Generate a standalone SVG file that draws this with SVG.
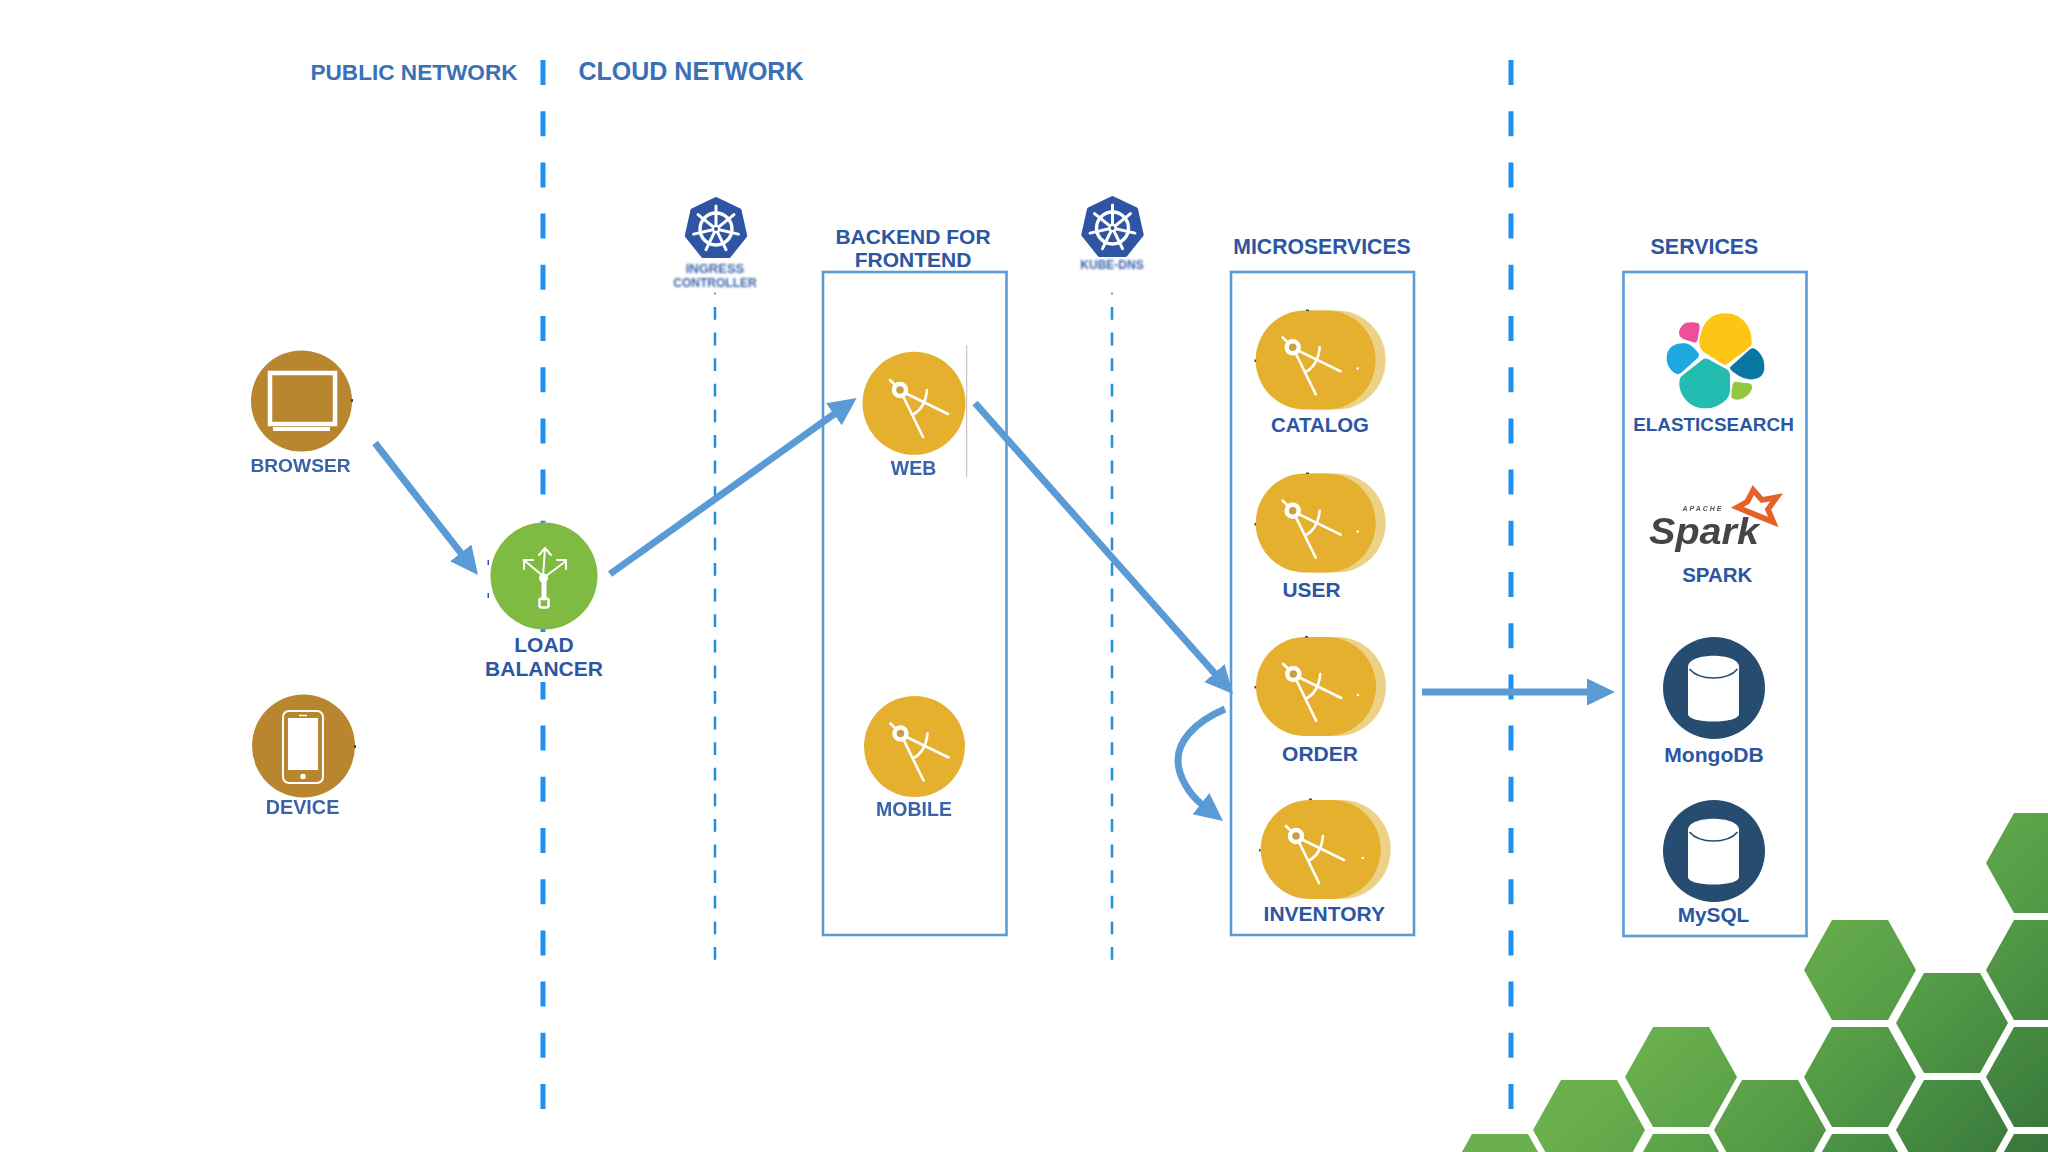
<svg xmlns="http://www.w3.org/2000/svg" width="2048" height="1152" viewBox="0 0 2048 1152">
<style>
text{font-family:"Liberation Sans",Arial,sans-serif;font-weight:700;fill:#2c56a2;text-anchor:middle}
.net{fill:#3b6fb6}
.soft{filter:url(#soft);fill:#3a63a8}
.tiny{filter:url(#blur);fill:#3a63a8}
.box{fill:none;stroke:#5b9bd5;stroke-width:2.6}
.wide{fill:none;stroke:#1e90f0;stroke-width:5;stroke-dasharray:25 26.2}
.narrow{fill:none;stroke:#1e90e0;stroke-width:2.5;stroke-dasharray:12.8 12.8}
.conn{fill:none;stroke:#5b9bd5;stroke-width:7;marker-end:url(#head)}
.ic{fill:none;stroke:#fff;stroke-linecap:round;stroke-linejoin:round}
.tick{fill:#445}
</style>
<defs>
<filter id="soft" x="-10%" y="-20%" width="120%" height="140%"><feGaussianBlur stdDeviation="0.45"/></filter>
<filter id="blur" x="-10%" y="-30%" width="120%" height="160%"><feGaussianBlur stdDeviation="1"/></filter>
<filter id="ico" x="-10%" y="-10%" width="120%" height="120%"><feGaussianBlur stdDeviation="0.35"/></filter>
<linearGradient id="hex" gradientUnits="userSpaceOnUse" x1="1780" y1="860" x2="2040" y2="1140"><stop offset="0.1" stop-color="#6ab04d"/><stop offset="0.5" stop-color="#559c47"/><stop offset="1" stop-color="#38783c"/></linearGradient>
<marker id="head" markerUnits="userSpaceOnUse" markerWidth="28" markerHeight="28" refX="1" refY="14" orient="auto"><path d="M0,0.5 L28,14 L0,27.5 Z" fill="#5b9bd5"/></marker>
<g id="compass" filter="url(#ico)">
<circle r="6" fill="#c8a040" stroke="#fff" stroke-width="4.500"/>
<path class="ic" stroke-width="2.600" d="M-10,-10 L-4,-4 M3,6 L23,47 M5,3 L48,24 M12,25 Q25,19 27,0"/>
</g>
<g id="wheel">
<polygon points="0,-30 23.5,-18.7 29.2,6.7 13,27 -13,27 -29.2,6.7 -23.5,-18.7" fill="#2f54a3" stroke="#2f54a3" stroke-width="4" stroke-linejoin="round"/>
<circle r="16" fill="none" stroke="#fff" stroke-width="3.400"/>
<path class="ic" stroke-width="3" d="M0,0 L0,-23 M0,0 L18,-14.300 M0,0 L22.400,5.100 M0,0 L10,20.700 M0,0 L-10,20.700 M0,0 L-22.400,5.100 M0,0 L-18,-14.300"/>
<circle r="4" fill="#fff"/><circle r="2" fill="#2f54a3"/>
</g>
<g id="pill">
<rect x="10" y="0" width="120" height="99" rx="49" ry="49.500" fill="#ecd286"/>
<rect x="0" y="0" width="120" height="99" rx="49" ry="49.500" fill="#e5b02d"/>
<circle cx="102" cy="58" r="1.200" fill="#fff"/>
</g>
<g id="cyl">
<path d="M-25.500,-21 C-25.500,-36 25.500,-36 25.500,-21 L25.500,26 C25.500,36 -25.500,36 -25.500,26 Z" fill="#fff"/>
<path d="M-24,-19 C-14,-7 14,-7 24,-19" fill="none" stroke="#264c70" stroke-width="1.600"/>
</g>
</defs>
<rect width="2048" height="1152" fill="#fff"/>

<g id="hexagons">
<path fill="url(#hex)" d="M1986,863l28,-50h56l28,50l-28,50h-56z M1986,970l28,-50h56l28,50l-28,50h-56z M1986,1077l28,-50h56l28,50l-28,50h-56z M1986,1184l28,-50h56l28,50l-28,50h-56z M1896,1023l28,-50h56l28,50l-28,50h-56z M1896,1130l28,-50h56l28,50l-28,50h-56z M1804,970l28,-50h56l28,50l-28,50h-56z M1804,1077l28,-50h56l28,50l-28,50h-56z M1804,1184l28,-50h56l28,50l-28,50h-56z M1714,1130l28,-50h56l28,50l-28,50h-56z M1625,1077l28,-50h56l28,50l-28,50h-56z M1625,1184l28,-50h56l28,50l-28,50h-56z M1533,1130l28,-50h56l28,50l-28,50h-56z M1444,1184l28,-50h56l28,50l-28,50h-56z"/>
</g>

<g id="lanes">
<path class="wide" d="M543,60V1110"/>
<path class="wide" d="M1511,60V1110"/>
<path class="narrow" d="M715,307V960"/>
<path class="narrow" d="M1112,307V960"/>
<path d="M715,292.500V294.500M1112,292.500V294.500" stroke="#1e90e0" stroke-width="1.500"/>
</g>

<g id="headings">
<text class="net" x="414" y="80" font-size="22.600">PUBLIC NETWORK</text>
<text class="net" x="691" y="80" font-size="25">CLOUD NETWORK</text>
</g>

<g id="ingress"><use href="#wheel" x="716" y="229"/>
<text class="tiny" x="715" y="273" font-size="13">INGRESS</text>
<text class="tiny" x="715" y="287" font-size="12">CONTROLLER</text></g>
<g id="kube-dns"><use href="#wheel" x="1112.500" y="228"/>
<text class="tiny" x="1112" y="269" font-size="12">KUBE-DNS</text></g>

<g id="browser">
<circle cx="301.500" cy="401" r="50.500" fill="#b8862e"/>
<rect x="270" y="373" width="65" height="51" fill="none" stroke="#fff" stroke-width="4.500"/>
<rect x="273" y="427" width="57" height="4" fill="#fff"/>
<rect class="tick" x="351" y="399" width="2" height="3"/>
<text class="soft" x="300.500" y="472" font-size="19.200">BROWSER</text>
</g>
<g id="device">
<circle cx="303.500" cy="746" r="51.500" fill="#b8862e"/>
<rect x="283" y="711" width="40" height="72" rx="6" fill="none" stroke="#fff" stroke-width="2"/>
<rect x="288" y="718" width="30" height="52" fill="#fff"/>
<path d="M299,715.500H307" stroke="#fff" stroke-width="1.500"/>
<circle cx="303" cy="776.500" r="2.800" fill="#fff"/>
<rect class="tick" x="354" y="745" width="2" height="3"/>
<text class="soft" x="302.500" y="814" font-size="19.800">DEVICE</text>
</g>
<g id="load-balancer">
<rect x="482" y="632" width="124" height="50" fill="#fff"/>
<circle cx="544" cy="576" r="53.500" fill="#7fba42"/>
<path class="ic" stroke-width="2" d="M543,576 L545,549 M539,555 L545,548 L551,555 M543,576 L525,561 M524,569 L524,560 L533,560 M546,576 L566,561 M557,560 L566,560 L566,569"/>
<path class="ic" stroke-width="5" d="M544,577 V598"/>
<circle cx="543.500" cy="578" r="4.500" fill="#fff"/>
<rect x="539.500" y="598.500" width="9" height="9" rx="2" fill="none" stroke="#fff" stroke-width="2.500"/>
<rect x="487.500" y="560" width="1.500" height="5" fill="#3a50a0"/>
<rect x="487.500" y="593" width="1.500" height="5" fill="#3a50a0"/>
<text x="544" y="652" font-size="21">LOAD</text>
<text x="544" y="675.500" font-size="21">BALANCER</text>
</g>

<g id="bff">
<rect class="box" x="823" y="272" width="183.500" height="663"/>
<text x="913" y="243.500" font-size="21">BACKEND FOR</text>
<text x="913" y="266.500" font-size="21">FRONTEND</text>
</g>
<g id="web">
<circle cx="914" cy="403.300" r="51.500" fill="#e5b02d"/>
<use href="#compass" x="900" y="390"/>
<path d="M966.700,345V477" stroke="#bbb" stroke-width="1"/>
<text class="soft" x="913.500" y="475" font-size="19.500">WEB</text>
</g>
<g id="mobile">
<circle cx="914.500" cy="746.500" r="50.500" fill="#e5b02d"/>
<use href="#compass" x="900.500" y="733.500"/>
<text class="soft" x="914" y="816" font-size="19.500">MOBILE</text>
</g>

<g id="microservices">
<rect class="box" x="1231" y="272" width="183" height="663"/>
<text x="1322" y="253.500" font-size="21.200">MICROSERVICES</text>
</g>
<g id="catalog"><use href="#pill" x="1255.700" y="310.500"/><use href="#compass" x="1292.700" y="347.300"/>
<rect class="tick" x="1306" y="309.500" width="3" height="1.500"/><rect class="tick" x="1254.500" y="359.500" width="1.500" height="2.500"/>
<text x="1320" y="432.300" font-size="20.400">CATALOG</text></g>
<g id="user"><use href="#pill" x="1255.700" y="473.500"/><use href="#compass" x="1292.700" y="510.700"/>
<rect class="tick" x="1306" y="472.500" width="3" height="1.500"/><rect class="tick" x="1254.500" y="523" width="1.500" height="2.500"/>
<text x="1311.500" y="596.700" font-size="20.900">USER</text></g>
<g id="order"><use href="#pill" x="1256" y="637"/><use href="#compass" x="1293.300" y="674"/>
<rect class="tick" x="1305" y="636" width="3" height="1.500"/><rect class="tick" x="1254.500" y="686" width="1.500" height="2.500"/>
<text x="1320" y="761" font-size="21">ORDER</text></g>
<g id="inventory"><use href="#pill" x="1260.700" y="800"/><use href="#compass" x="1296" y="836"/>
<rect class="tick" x="1309" y="798.500" width="3" height="1.500"/><rect class="tick" x="1259" y="849" width="1.500" height="2.500"/>
<text x="1324.300" y="921" font-size="21">INVENTORY</text></g>

<g id="services">
<rect class="box" x="1623.500" y="272" width="183" height="664"/>
<text x="1704.500" y="253.500" font-size="21.400">SERVICES</text>
</g>
<g id="elasticsearch">
<g transform="translate(1610,280) scale(.33333)">
<path fill="#fec514" d="M345,100C395,100 428,140 425,190C424,200 415,205 405,212L350,253Q345,256 338,252L280,215Q272,208 270,200C266,180 270,165 280,140C292,115 315,100 345,100Z"/>
<path fill="#f04e98" d="M228,128Q250,125 265,130Q270,133 268,150L262,182Q258,190 250,187L222,178Q205,170 207,155Q212,135 228,128Z"/>
<path fill="#1ba9e0" d="M170,235C170,205 190,188 225,190Q240,190 262,215Q272,225 262,235L212,280Q205,285 195,280C180,270 170,255 170,235Z"/>
<path fill="#0a77a3" d="M360,262L420,208Q428,202 437,208C455,222 465,240 463,268Q460,295 430,298C415,300 395,295 375,280Q358,268 360,262Z"/>
<path fill="#24bbb1" d="M280,237Q285,233 295,238L350,268Q358,272 360,285L360,335Q358,350 345,362C325,380 300,388 270,384C235,378 208,345 208,310Q208,295 215,288Z"/>
<path fill="#93c83e" d="M372,305L415,310Q428,312 426,325Q420,350 390,358Q370,362 364,350Q364,320 372,305Z"/>
</g>
<text x="1713.500" y="430.700" font-size="18.900">ELASTICSEARCH</text>
</g>
<g id="spark">
<polygon transform="translate(1610,280) scale(.33333)" fill="none" stroke="#e2622a" stroke-width="17" stroke-linejoin="miter" points="430,630 456,660 500,652 474,688 490,726 445,708 382,682 412,665"/>
<text class="soft" x="1704" y="544" font-size="37" font-style="italic" textLength="110" lengthAdjust="spacingAndGlyphs" style="fill:#444">Spark</text>
<text class="soft" x="1703" y="511" font-size="7" font-style="italic" letter-spacing="2" style="fill:#555">APACHE</text>
<text x="1717.300" y="581.700" font-size="20.500">SPARK</text>
</g>
<g id="mongodb">
<circle cx="1714" cy="688" r="51" fill="#264c70"/>
<use href="#cyl" x="1713.500" y="688"/>
<text x="1714" y="761.700" font-size="21.100">MongoDB</text>
</g>
<g id="mysql">
<circle cx="1714" cy="851" r="51" fill="#264c70"/>
<use href="#cyl" x="1713.500" y="851"/>
<text x="1713.500" y="921.700" font-size="20.800">MySQL</text>
</g>

<g id="connectors">
<path class="conn" d="M375,443 L461.400,553.700"/>
<path class="conn" d="M610,574 L834.700,413.700"/>
<path class="conn" d="M975,403 L1215.100,673.800"/>
<path class="conn" d="M1225,709 C1192,723 1178,743 1178,760 C1178,777 1190,795 1201.800,804.300"/>
<path class="conn" d="M1422,692 L1588,692"/>
</g>
</svg>
